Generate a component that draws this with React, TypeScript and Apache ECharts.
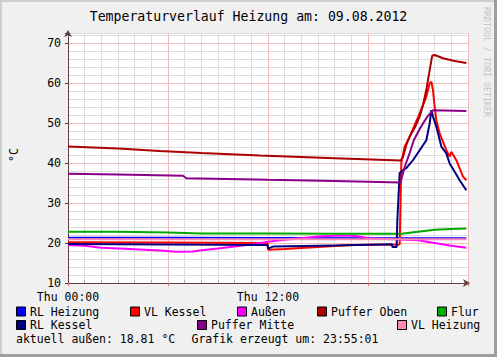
import React, { useEffect, useRef } from "react";
import * as echarts from "echarts";

const FONT = "DejaVu Sans Mono";

const title = "Temperaturverlauf Heizung am: 09.08.2012";
const yTickLabels = ["10", "20", "30", "40", "50", "60", "70"];
const xTickLabels: Record<number, string> = { 0: "Thu 00:00", 12: "Thu 12:00" };

// [hour, °C]
const rlHeizung = [[0, 21.3], [6, 21.3], [12, 21.25], [18, 21.2], [23.9, 21.2]];
const vlKessel = [
  [0, 20.2], [6, 20.1], [11.97, 20.0], [12.02, 18.3], [13, 18.5], [15.5, 19.1], [17, 19.5], [19.9, 19.6],
  [20.0, 40.0], [20.2, 44.1], [20.5, 46.6], [21.1, 52.4], [21.5, 56.6], [21.7, 59.9], [21.8, 60.3],
  [21.9, 58.2], [22.0, 54.0], [22.1, 50.7], [22.3, 47.4], [22.7, 43.2], [22.9, 41.6], [23.0, 42.8],
  [23.3, 40.7], [23.7, 36.6], [23.9, 35.7],
];
const aussen = [
  [0, 19.5], [1, 19.3], [2, 18.8], [3.7, 18.5], [5.5, 18.1], [6.5, 17.8], [7.5, 17.9], [8, 18.2],
  [9, 18.6], [10, 19.1], [11, 19.6], [12, 20.3], [13, 20.8], [14, 21.2], [15, 21.6], [16, 21.8],
  [17, 21.8], [17.5, 21.6], [18, 21.2], [19, 21.0], [20, 20.9], [21, 20.7], [22, 20.0], [23, 19.3],
  [23.9, 18.8],
];
const pufferOben = [
  [0, 44.1], [3, 43.6], [5.5, 43.0], [8, 42.5], [11.5, 41.9], [16, 41.2], [19.95, 40.6], [20.1, 41.5],
  [20.3, 44.5], [20.5, 46.6], [20.8, 48.8], [21.1, 51.6], [21.3, 54.5], [21.5, 58.3], [21.7, 63.2],
  [21.85, 66.8], [22.0, 67.0], [22.5, 66.2], [23.2, 65.5], [23.9, 65.0],
];
const flur = [
  [0, 22.8], [3, 22.8], [6, 22.6], [8, 22.4], [12, 22.4], [16, 22.3], [20, 22.3], [21, 22.8],
  [22, 23.3], [23, 23.5], [23.9, 23.6],
];
const rlKessel = [
  [0, 19.75], [6, 19.6], [11.97, 19.5], [12.0, 18.6], [12.3, 19.1], [16, 19.4], [19.44, 19.7],
  [19.46, 19.0], [19.72, 19.0], [19.76, 25.7], [19.82, 30.7], [19.9, 37.5], [20.1, 38.2], [20.3, 38.7],
  [20.7, 40.7], [21.1, 43.2], [21.5, 45.7], [21.7, 49.9], [21.8, 53.2], [21.9, 51.6], [22.1, 49.1],
  [22.4, 44.1], [22.7, 42.4], [22.9, 39.9], [23.2, 37.8], [23.5, 35.7], [23.9, 33.2],
];
const pufferMitte = [
  [0, 37.3], [3, 37.1], [6.9, 36.8], [7.1, 36.2], [12, 35.8], [16, 35.5], [19.95, 35.1], [20.2, 39.0],
  [20.5, 42.5], [20.75, 45.7], [21.1, 48.5], [21.3, 49.9], [21.6, 51.8], [21.9, 53.2], [23.9, 53.0],
];
const vlHeizung = [[0, 20.95], [6, 20.95], [12, 20.95], [18, 20.95], [23.9, 20.95]];

const seriesNames = ["RL Heizung", "VL Kessel", "Außen", "Puffer Oben", "Flur", "RL Kessel", "Puffer Mitte", "VL Heizung"];
const seriesData = [rlHeizung, vlKessel, aussen, pufferOben, flur, rlKessel, pufferMitte, vlHeizung];
const seriesColors = ["#0000ff", "#ff0000", "#ff00ff", "#aa0000", "#00aa00", "#000080", "#880088", "#ff88b4"];

const footerLeft = "aktuell außen: 18.81 °C";
const footerRight = "Grafik erzeugt um: 23:55:01";

// legend layout: [box x, row center y]
const legendPos = [
  [16, 311.5], [130, 311.5], [237, 311.5], [317, 311.5], [437, 311.5],
  [16, 325], [197, 325], [397, 325],
];

export default function App() {
  const ref = useRef<HTMLDivElement>(null);
  useEffect(() => {
    if (!ref.current) return;
    const chart = echarts.init(ref.current, undefined, { renderer: "svg" });
    const graphics: any[] = [
      { type: "rect", shape: { x: 0, y: 0, width: 2, height: 357 }, style: { fill: "#cfcfcf" }, z: 10 },
      { type: "rect", shape: { x: 0, y: 0, width: 497, height: 2 }, style: { fill: "#cfcfcf" }, z: 10 },
      { type: "rect", shape: { x: 494, y: 0, width: 3, height: 357 }, style: { fill: "#9e9e9e" }, z: 11 },
      { type: "rect", shape: { x: 0, y: 354, width: 497, height: 3 }, style: { fill: "#9e9e9e" }, z: 11 },
      {
        type: "text", x: 248.5, y: 16, z: 10,
        style: { text: title, font: `13.2px "${FONT}"`, fill: "#000", align: "center", verticalAlign: "middle" },
      },
      {
        type: "text", x: 14, y: 155, rotation: Math.PI / 2, z: 10,
        style: { text: "°C", font: `11.5px "${FONT}"`, fill: "#000", align: "center", verticalAlign: "middle" },
      },
      {
        type: "text", x: 487, y: 62, rotation: -Math.PI / 2, z: 10,
        style: { text: "RRDTOOL / TOBI OETIKER", font: `8.3px "${FONT}"`, fill: "#c4c4c4", align: "center", verticalAlign: "middle" },
      },
      {
        type: "text", x: 16, y: 339, z: 10,
        style: { text: footerLeft, font: `11.5px "${FONT}"`, fill: "#000", align: "left", verticalAlign: "middle" },
      },
      {
        type: "text", x: 191.5, y: 339, z: 10,
        style: { text: footerRight, font: `11.5px "${FONT}"`, fill: "#000", align: "left", verticalAlign: "middle" },
      },
    ];
    seriesNames.forEach((name, i) => {
      const [bx, cy] = legendPos[i];
      graphics.push({
        type: "rect", z: 10,
        shape: { x: bx + 0.5, y: cy - 4.5, width: 9, height: 9 },
        style: { fill: seriesColors[i], stroke: "#000", lineWidth: 1 },
      });
      graphics.push({
        type: "text", x: bx + 14, y: cy, z: 10,
        style: { text: name, font: `11.5px "${FONT}"`, fill: "#000", align: "left", verticalAlign: "middle" },
      });
    });

    const majorColor = "#f2bcbc";
    const minorColor = "#dcdcdc";
    const axisColor = "#604040";

    chart.setOption({
      animation: false,
      backgroundColor: "#f0f0f0",
      textStyle: { fontFamily: FONT },
      grid: { left: 68, top: 33, width: 400, height: 250, show: true, backgroundColor: "#ffffff", borderWidth: 0 },
      xAxis: [
        {
          type: "value", min: 0, max: 24, interval: 1, position: "bottom", z: 0,
          axisLine: { show: false },
          axisTick: { show: true, inside: true, length: 3, lineStyle: { color: "#b0b0b0" } },
          axisLabel: { show: false },
          splitLine: { show: true, lineStyle: { color: minorColor, width: 1 } },
        },
        {
          type: "value", min: 0, max: 24, interval: 6, position: "bottom", z: 1,
          axisLine: {
            show: true, lineStyle: { color: axisColor, width: 1 },
            symbol: ["none", "arrow"], symbolSize: [6, 7], symbolOffset: [0, 2],
          },
          axisTick: { show: true, length: 3, lineStyle: { color: "#e07070" } },
          axisLabel: {
            show: true, margin: 8, fontFamily: FONT, fontSize: 11.5, lineHeight: 11, color: "#000",
            formatter: (v: number) => xTickLabels[v] ?? "",
          },
          splitLine: { show: true, lineStyle: { color: majorColor, width: 1 } },
        },
      ],
      yAxis: [
        {
          type: "value", min: 10, max: 72.5, interval: 2, position: "left", z: 0,
          axisLine: { show: false }, axisTick: { show: false }, axisLabel: { show: false },
          splitLine: { show: true, lineStyle: { color: minorColor, width: 1 } },
        },
        {
          type: "value", min: 10, max: 72.5, interval: 10, position: "left", z: 1,
          axisLine: {
            show: true, lineStyle: { color: axisColor, width: 1 },
            symbol: ["none", "arrow"], symbolSize: [6, 7], symbolOffset: [0, 3],
          },
          axisTick: { show: true, length: 3, lineStyle: { color: "#404040" } },
          axisLabel: {
            show: true, margin: 7, fontFamily: FONT, fontSize: 11.5, lineHeight: 11, color: "#000",
            formatter: (v: number) => (yTickLabels.includes(String(v)) ? String(v) : ""),
          },
          splitLine: {
            show: true,
            lineStyle: { color: [majorColor, majorColor, majorColor, majorColor, majorColor, majorColor, majorColor, minorColor], width: 1 },
          },
        },
      ],
      series: seriesNames.map((name, i) => ({
        name, type: "line", xAxisIndex: 1, yAxisIndex: 1,
        data: seriesData[i], showSymbol: false, symbol: "none",
        lineStyle: { color: seriesColors[i], width: 2 },
        itemStyle: { color: seriesColors[i] },
        z: 2 + i * 0.01,
      })),
      graphic: graphics,
    });
    return () => chart.dispose();
  }, []);
  return <div ref={ref} style={{ position: "absolute", left: 0, top: 0, width: 497, height: 357 }} />;
}
